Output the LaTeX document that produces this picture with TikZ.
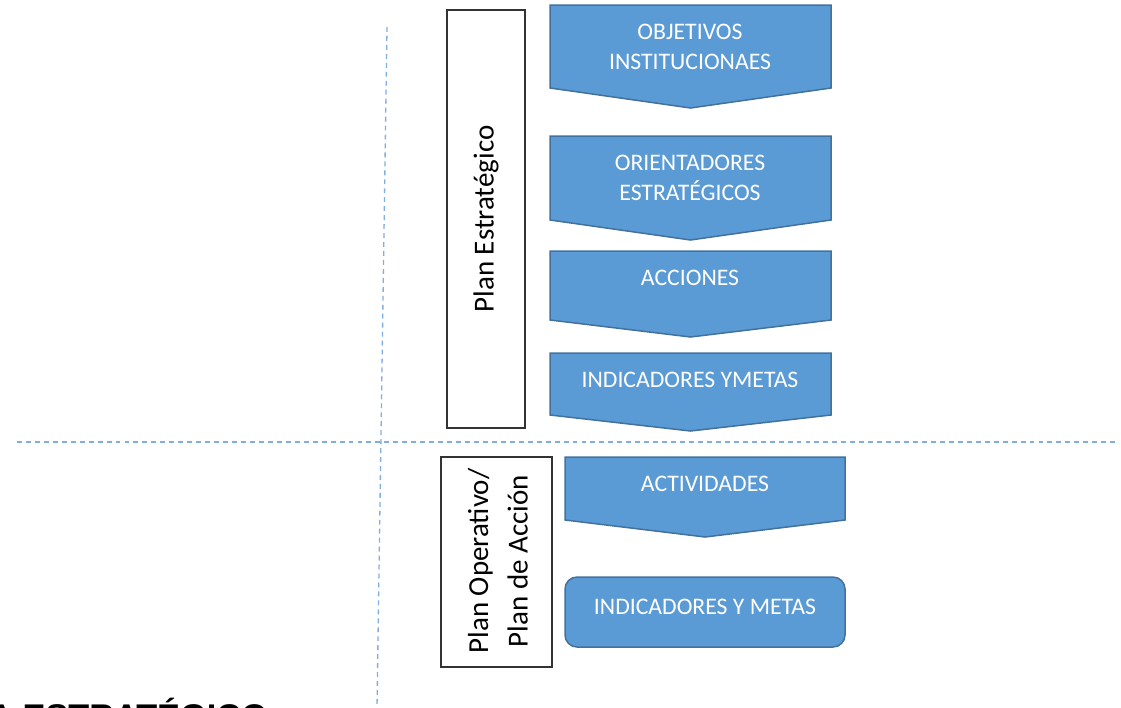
\documentclass[tikz,border=0pt]{standalone}
\usepackage{fontspec}
\setmainfont{Carlito}
\newfontfamily\titlefont{Liberation Sans}
\definecolor{blockblue}{HTML}{5B9BD5}
\definecolor{blockedge}{HTML}{41719C}
\definecolor{guideblue}{HTML}{7FAEDF}
\def\chevblock(#1,#2)(#3:#4:#5)%Syntax: (left x,right x)(top:side bottom:tip)
{ \filldraw[block] (#1,#3) -- (#2,#3) -- (#2,#4) -- ({(#1+#2)/2},#5) -- (#1,#4) -- cycle; }

\begin{document}
\begin{tikzpicture}[x=0.02cm,y=-0.02cm,
	block/.style={fill=blockblue,draw=blockedge,line width=0.85pt,line join=miter},
	blocktext/.style={text=white,font=\fontsize{13.5}{17}\selectfont,align=center,inner sep=0pt},
	planbox/.style={draw=black!80,line width=0.7pt},
	plantext/.style={font=\fontsize{16.5}{22.5}\selectfont,rotate=90,align=center,inner sep=0pt},
	guide/.style={guideblue,line width=0.75pt,dash pattern=on 2.8pt off 2.3pt}]
	\useasboundingbox (0,0) rectangle (1121,707);

	%guide lines
	\draw[guide] (387,27)--(377,707);		%vertical
	\draw[guide] (17,442)--(1118,442);		%horizontal

	%plan boxes
	\draw[planbox] (447,10) rectangle (525,428);
	\node[plantext] (planEst) at (486,219) {Plan Estratégico};
	\draw[planbox] (441,457) rectangle (552,667);
	\node[plantext] (planOp) at (498,561) {Plan Operativo/\\Plan de Acción};

	%strategic blocks
	\chevblock(550,831)(5:88:108)
	\node[blocktext] (objetivos) at (690,47) {OBJETIVOS\\INSTITUCIONAES};
	\chevblock(550,831)(136:220:240)
	\node[blocktext] (orientadores) at (690,177.5) {ORIENTADORES\\ESTRATÉGICOS};
	\chevblock(550,831)(251:320:337)
	\node[blocktext] (acciones) at (690,278) {ACCIONES};
	\chevblock(550,831)(353:415:431)
	\node[blocktext] (indicadores) at (690,380) {INDICADORES YMETAS};

	%operative blocks
	\chevblock(565,845)(457:520:537)
	\node[blocktext] (actividades) at (705,484) {ACTIVIDADES};
	\filldraw[block,rounded corners=0.24cm] (565,577) rectangle (845,647);
	\node[blocktext] (metas) at (705,607) {INDICADORES Y METAS};

	%title, cut at the lower edge
	\begin{scope}
		\clip (0,0) rectangle (1121,707);
		\node[font=\titlefont\bfseries\fontsize{19.5}{23}\selectfont,inner sep=0pt,anchor=base east] (titulo) at (268,728) {MAPA ESTRATÉGICO};
	\end{scope}
\end{tikzpicture}
\end{document}
